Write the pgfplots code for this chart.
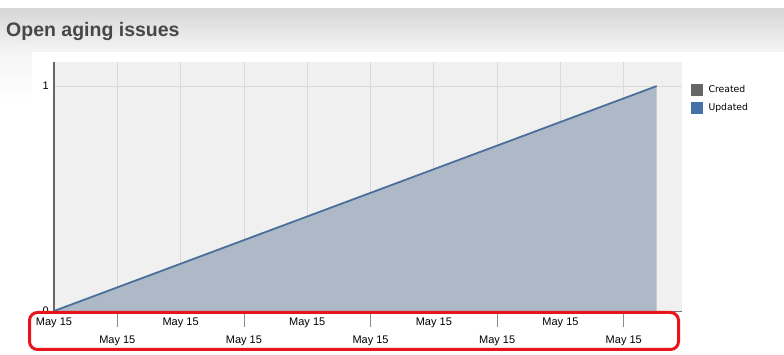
\documentclass[border=0pt]{standalone}
\usepackage{pgfplots}
\pgfplotsset{compat=1.18}
\usepackage{fontspec}
\setmainfont{Liberation Sans}
\newfontfamily\dejavu{DejaVu Sans}
\definecolor{plotbg}{HTML}{F0F0F0}
\definecolor{gridc}{HTML}{DADADA}
\definecolor{areafill}{HTML}{AEB9C8}
\definecolor{updline}{HTML}{4A6F9A}
\definecolor{updleg}{HTML}{4572A7}
\definecolor{createdc}{HTML}{666666}
\definecolor{boxred}{HTML}{E8141B}
\begin{document}
\begin{tikzpicture}[x=1pt,y=1pt]
\path[use as bounding box] (0,0) rectangle (784,355);
% header gradient
\shade[top color=gray!32, bottom color=gray!8] (0,347) rectangle (784,303);
\fill[white] (0,355) rectangle (784,347);
\shade[top color=gray!8, bottom color=white] (0,303) rectangle (32,255);
\fill[white] (32,303) rectangle (784,0);
\node[anchor=base west, inner sep=0pt, font=\fontsize{19.5}{22}\selectfont\bfseries, text=black!72] at (6,318.5) {Open aging issues};
\begin{axis}[
  at={(54pt,44pt)}, anchor=south west,
  scale only axis, width=628pt, height=249pt,
  xmin=0, xmax=9.92, ymin=0, ymax=1.107,
  axis background/.style={fill=plotbg},
  axis x line*=bottom, axis y line*=left,
  x axis line style={draw=black!55, line width=0.8pt},
  y axis line style={draw=black!60, line width=1.5pt},
  xtick={0,2,4,6,8}, xticklabels={May 15,May 15,May 15,May 15,May 15},
  extra x ticks={1,3,5,7,9}, extra x tick labels={May 15,May 15,May 15,May 15,May 15},
  extra x tick style={
    major tick length=16pt,
    tick align=outside,
    tick style={draw=black!45, line width=0.8pt},
    xticklabel style={yshift=-2pt},
  },
  major tick length=0pt,
  xmajorgrids, ymajorgrids,
  major grid style={draw=gridc, line width=0.8pt},
  ytick={0,1},
  tick label style={font=\fontsize{11}{12}\selectfont, text=black},
  xticklabel style={inner sep=0pt, yshift=-7pt},
  yticklabel style={inner sep=0pt, xshift=-5pt},
  /pgf/number format/assume math mode=true,
  clip=false,
  legend style={at={(1.0145,0.912)}, anchor=north west, draw=none, fill=none,
    font=\dejavu\fontsize{9.3}{10}\selectfont, row sep=5pt,
    inner sep=0pt, outer sep=0pt,
    /tikz/every odd column/.append style={column sep=4pt}},
  legend cell align=left,
]
\addplot[draw=none, fill=areafill, forget plot] coordinates {(0,0) (9.52,1)} \closedcycle;
\addplot[draw=updline, line width=1.8pt, forget plot] coordinates {(0,0) (9.52,1)};
\addlegendimage{legend image code/.code={\fill[createdc] (0pt,-5.5pt) rectangle (11pt,5.5pt);}}
\addlegendentry{Created}
\addlegendimage{legend image code/.code={\fill[updleg] (0pt,-5.5pt) rectangle (11pt,5.5pt);}}
\addlegendentry{Updated}
\end{axis}
\draw[boxred, line width=3pt, rounded corners=8pt] (29.5,42.5) rectangle (678.5,5.5);
\end{tikzpicture}
\end{document}
